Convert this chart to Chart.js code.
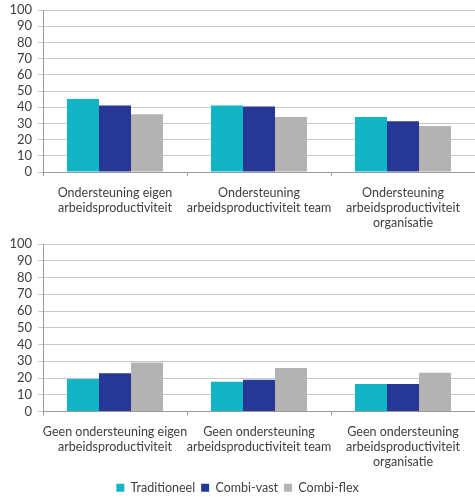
<!DOCTYPE html>
<html>
<head>
<meta charset="utf-8">
<script src="https://cdn.jsdelivr.net/npm/chart.js@4"></script>
<style>
  html, body { margin: 0; padding: 0; background: #fff; }
  #wrap { position: relative; width: 475px; height: 497px; overflow: hidden; }
  #top { position: absolute; left: 0; top: 0; }
  #bottom { position: absolute; left: 0; top: 232px; }
</style>
</head>
<body>
<div id="wrap">
  <canvas id="top" width="475" height="232"></canvas>
  <canvas id="bottom" width="475" height="272"></canvas>
</div>
<script>
// categorieën
const topLabels = [
  ['Ondersteuning eigen', 'arbeidsproductiviteit'],
  ['Ondersteuning', 'arbeidsproductiviteit team'],
  ['Ondersteuning', 'arbeidsproductiviteit', 'organisatie']
];
const bottomLabels = [
  ['Geen ondersteuning eigen', 'arbeidsproductiviteit'],
  ['Geen ondersteuning', 'arbeidsproductiviteit team'],
  ['Geen ondersteuning', 'arbeidsproductiviteit', 'organisatie']
];
const seriesNames = ['Traditioneel', 'Combi-vast', 'Combi-flex'];
const seriesColors = ['#12B5C3', '#273795', '#B3B3B3'];

// waarden (%)
const topTraditioneel = [45, 41, 34];
const topCombiVast = [41, 40.5, 31.3];
const topCombiFlex = [35.6, 34, 28.4];
const bottomTraditioneel = [19.4, 17.8, 16.4];
const bottomCombiVast = [22.9, 19, 16.4];
const bottomCombiFlex = [29.3, 25.9, 23.2];

const yTicks = { min: 0, max: 100, step: 10 };

const textColor = '#404040';
const fontFamily = 'Lato, "Open Sans", sans-serif';

function makeDatasets(values) {
  return values.map((v, i) => ({
    label: seriesNames[i],
    data: v,
    backgroundColor: seriesColors[i],
    borderWidth: 0,
    categoryPercentage: 0.667,
    barPercentage: 1.0
  }));
}

function makeOptions(topPad, xHeight, showLegend) {
  return {
    responsive: false,
    animation: false,
    layout: { padding: { top: topPad, right: 0, left: 0, bottom: 0 } },
    scales: {
      x: {
        grid: { offset: true, drawOnChartArea: false, drawTicks: true, tickLength: 4, color: '#9a9a9a' },
        border: { color: '#9a9a9a' },
        ticks: { color: textColor, font: { family: fontFamily, size: 12.5, lineHeight: 1.2 }, maxRotation: 0, autoSkip: false, padding: 9 },
        afterFit: (s) => { s.height = xHeight; }
      },
      y: {
        min: yTicks.min,
        max: yTicks.max,
        grid: { color: '#c8c8c8', tickLength: 5 },
        border: { color: '#9a9a9a' },
        ticks: { stepSize: yTicks.step, autoSkip: false, color: textColor, font: { family: fontFamily, size: 13 }, padding: 6 },
        afterFit: (s) => { s.width = 43; s.paddingTop = 0; s.paddingBottom = 0; }
      }
    },
    plugins: {
      legend: {
        display: showLegend,
        position: 'bottom',
        labels: { boxWidth: 8, boxHeight: 8, padding: 6, color: textColor, font: { family: fontFamily, size: 12.5 } }
      },
      tooltip: { enabled: false }
    }
  };
}

new Chart(document.getElementById('top').getContext('2d'), {
  type: 'bar',
  data: { labels: topLabels, datasets: makeDatasets([topTraditioneel, topCombiVast, topCombiFlex]) },
  options: makeOptions(10, 60, false)
});

new Chart(document.getElementById('bottom').getContext('2d'), {
  type: 'bar',
  data: { labels: bottomLabels, datasets: makeDatasets([bottomTraditioneel, bottomCombiVast, bottomCombiFlex]) },
  options: makeOptions(12, 64, true)
});
</script>
</body>
</html>
